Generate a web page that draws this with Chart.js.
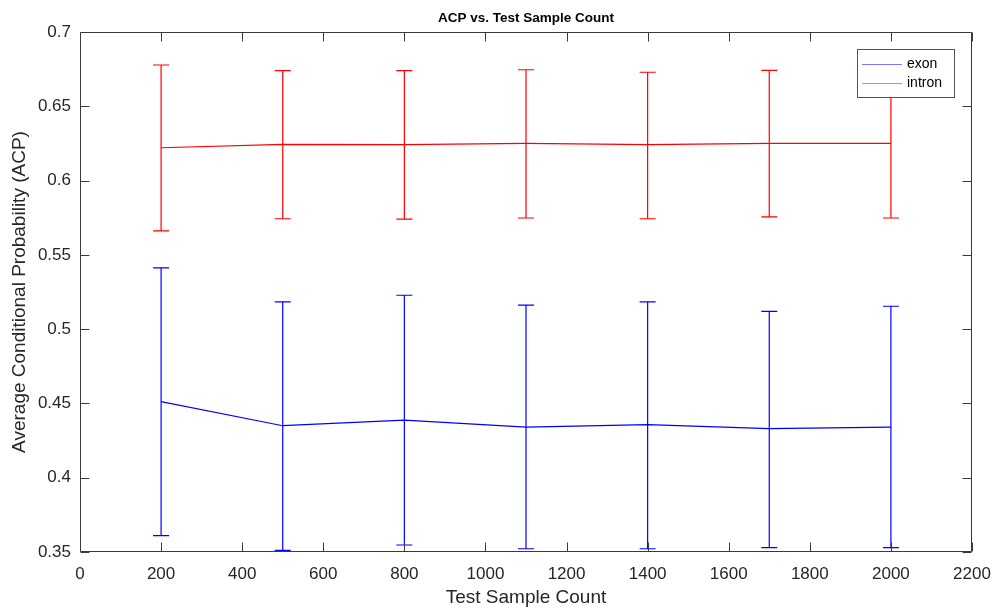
<!DOCTYPE html>
<html>
<head>
<meta charset="utf-8">
<script src="https://cdn.jsdelivr.net/npm/chart.js@4.4.1/dist/chart.umd.min.js"></script>
<style>
  body { margin: 0; background: #fff; }
  #wrap { width: 996px; height: 610px; }
</style>
</head>
<body>
<div id="wrap"><canvas id="acpChart"></canvas></div>
<script>
// data
const sampleCounts = [200, 500, 800, 1100, 1400, 1700, 2000]
const exonMean  = [0.4512, 0.4350, 0.4388, 0.4341, 0.4357, 0.4330, 0.4341]
const exonUpper = [0.5412, 0.5183, 0.5228, 0.5162, 0.5183, 0.5120, 0.5154]
const exonLower = [0.3610, 0.3511, 0.3547, 0.3522, 0.3522, 0.3529, 0.3529]
const intronMean  = [0.6221, 0.6244, 0.6242, 0.6251, 0.6242, 0.6251, 0.6251]
const intronUpper = [0.6778, 0.6740, 0.6740, 0.6746, 0.6729, 0.6742, 0.6740]
const intronLower = [0.5661, 0.5743, 0.5741, 0.5748, 0.5743, 0.5755, 0.5748]
const xTickValues = [0, 200, 400, 600, 800, 1000, 1200, 1400, 1600, 1800, 2000, 2200]
const yTickValues = [0.35, 0.4, 0.45, 0.5, 0.55, 0.6, 0.65, 0.7]

const FONT = '"Liberation Sans", Arial, Helvetica, sans-serif'
const AXIS_COLOR = '#3a3a3a'
const TEXT_COLOR = '#262626'
const TITLE = 'ACP vs. Test Sample Count'

function toPoints(ys){
    return sampleCounts.map((x, i) => ({x: x, y: ys[i]}))
}

// error bars, box, inward ticks, title and legend (MATLAB look)
const matlabPlugin = {
    id: 'matlab',
    afterDatasetsDraw(chart){
        const ctx = chart.ctx
        const xs = chart.scales.x, ys = chart.scales.y
        const bars = [
            {color: '#0000ff', up: exonUpper, lo: exonLower},
            {color: '#ff0000', up: intronUpper, lo: intronLower}
        ]
        const cap = 8
        ctx.save()
        ctx.lineWidth = 1.2
        bars.forEach(b => {
            ctx.strokeStyle = b.color
            sampleCounts.forEach((v, i) => {
                const px = xs.getPixelForValue(v)
                const top = ys.getPixelForValue(b.up[i])
                const bot = ys.getPixelForValue(b.lo[i])
                ctx.beginPath()
                ctx.moveTo(px, top); ctx.lineTo(px, bot)
                ctx.moveTo(px - cap, top); ctx.lineTo(px + cap, top)
                ctx.moveTo(px - cap, bot); ctx.lineTo(px + cap, bot)
                ctx.stroke()
            })
        })
        ctx.restore()
    },
    afterDraw(chart){
        const ctx = chart.ctx
        const a = chart.chartArea
        const xs = chart.scales.x, ys = chart.scales.y
        const L = Math.round(a.left) + 0.5, R = Math.round(a.right) - 0.5
        const T = Math.round(a.top) + 0.5, B = Math.round(a.bottom) - 0.5
        const tl = 9
        ctx.save()
        ctx.strokeStyle = AXIS_COLOR
        ctx.lineWidth = 1
        ctx.beginPath()
        ctx.rect(L, T, R - L, B - T)
        xTickValues.forEach(v => {
            const px = Math.round(xs.getPixelForValue(v)) + 0.5
            ctx.moveTo(px, B); ctx.lineTo(px, B - tl)
            ctx.moveTo(px, T); ctx.lineTo(px, T + tl)
        })
        yTickValues.forEach(v => {
            const py = Math.round(ys.getPixelForValue(v)) + 0.5
            ctx.moveTo(L, py); ctx.lineTo(L + tl, py)
            ctx.moveTo(R, py); ctx.lineTo(R - tl, py)
        })
        ctx.stroke()

        // title centred over the plot box
        ctx.fillStyle = '#000'
        ctx.font = 'bold 13.5px ' + FONT
        ctx.textAlign = 'center'
        ctx.textBaseline = 'middle'
        ctx.fillText(TITLE, (a.left + a.right) / 2, 18)

        // legend box
        const lx = 857.5, ly = 49.5, lw = 97, lh = 48
        ctx.fillStyle = '#fff'
        ctx.fillRect(lx, ly, lw, lh)
        ctx.strokeStyle = '#555'
        ctx.strokeRect(lx, ly, lw, lh)
        ctx.font = '14px ' + FONT
        ctx.textAlign = 'left'
        chart.data.datasets.forEach((ds, i) => {
            const yy = 64.5 + i * 19
            ctx.strokeStyle = ds.legendColor
            ctx.beginPath()
            ctx.moveTo(862, yy); ctx.lineTo(902, yy)
            ctx.stroke()
            ctx.fillStyle = '#000'
            ctx.fillText(ds.label, 907, yy)
        })
        ctx.restore()
    }
}

const ctx = document.getElementById('acpChart').getContext('2d')
const acpChart = new Chart(ctx, {
    type: 'line',
    data: {
        datasets: [{
            label: 'exon',
            data: toPoints(exonMean),
            borderColor: '#0000ff',
            legendColor: '#7777ff',
            borderWidth: 1.2,
            pointRadius: 0,
            tension: 0
        }, {
            label: 'intron',
            data: toPoints(intronMean),
            borderColor: '#ff0000',
            legendColor: '#ff7777',
            borderWidth: 1.2,
            pointRadius: 0,
            tension: 0
        }]
    },
    options: {
        responsive: true,
        maintainAspectRatio: false,
        animation: false,
        layout: { padding: { left: 0, right: 24, top: 32, bottom: 0 } },
        plugins: {
            legend: { display: false },
            tooltip: { enabled: false },
            title: { display: false }
        },
        scales: {
            x: {
                type: 'linear',
                min: 0,
                max: 2200,
                afterBuildTicks: s => { s.ticks = xTickValues.map(v => ({value: v})) },
                afterFit: s => { s.height = 58; s.paddingLeft = 0; s.paddingRight = 0 },
                grid: { display: false, drawTicks: false },
                border: { display: false },
                ticks: {
                    color: TEXT_COLOR,
                    padding: 12,
                    maxRotation: 0,
                    autoSkip: false,
                    font: { family: FONT, size: 17 },
                    callback: v => String(v)
                },
                title: {
                    display: true,
                    text: 'Test Sample Count',
                    color: TEXT_COLOR,
                    font: { family: FONT, size: 19, lineHeight: 1.2 },
                    padding: { top: 0, bottom: 0.6 }
                }
            },
            y: {
                min: 0.35,
                max: 0.7,
                afterBuildTicks: s => { s.ticks = yTickValues.map(v => ({value: v})) },
                afterFit: s => { s.width = 80; s.paddingTop = 0; s.paddingBottom = 0 },
                grid: { display: false, drawTicks: false },
                border: { display: false },
                ticks: {
                    color: TEXT_COLOR,
                    padding: 9,
                    autoSkip: false,
                    font: { family: FONT, size: 17 },
                    callback: v => String(Number(v.toFixed(2)))
                },
                title: {
                    display: true,
                    text: 'Average Conditional Probability (ACP)',
                    color: TEXT_COLOR,
                    font: { family: FONT, size: 19, lineHeight: 1.2 },
                    padding: { top: 8.6, bottom: 0 }
                }
            }
        }
    },
    plugins: [matlabPlugin]
})
</script>
</body>
</html>
